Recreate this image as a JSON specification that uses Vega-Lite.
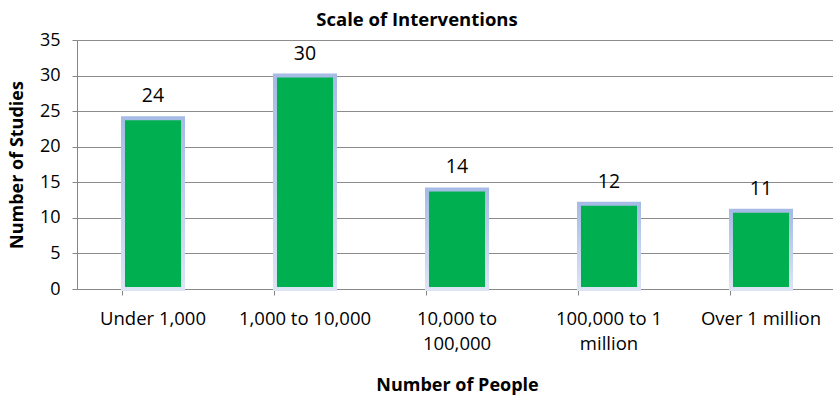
{
  "$schema": "https://vega.github.io/schema/vega-lite/v6.json",
  "autosize": {"type": "none"},
  "width": 760,
  "height": 249,
  "padding": {"left": 77, "top": 40, "right": 0, "bottom": 109},
  "background": "white",
  "config": {
    "font": "Open Sans",
    "view": {"stroke": null}
  },
  "title": {
    "text": "Scale of Interventions",
    "font": "Open Sans",
    "fontSize": 18.5,
    "fontWeight": "bold",
    "color": "#000000",
    "anchor": "middle",
    "offset": 2,
    "dx": -40
  },
  "data": {
    "values": [
      {"people": "Under 1,000", "studies": 24},
      {"people": "1,000 to 10,000", "studies": 30},
      {"people": "10,000 to 100,000", "studies": 14},
      {"people": "100,000 to 1 million", "studies": 12},
      {"people": "Over 1 million", "studies": 11}
    ]
  },
  "encoding": {
    "x": {
      "field": "people",
      "type": "nominal",
      "sort": null,
      "scale": {"paddingInner": 0.605, "paddingOuter": 0.3025},
      "axis": {
        "title": "Number of People",
        "titleFont": "Open Sans",
        "titleFontSize": 18,
        "titleFontWeight": "bold",
        "titleColor": "#000000",
        "titlePadding": 24,
        "labelAngle": 0,
        "labelFont": "Open Sans",
        "labelFontSize": 18.5,
        "labelColor": "#000000",
        "labelPadding": 14,
        "labelLineHeight": 25,
        "labelExpr": "datum.value == '10,000 to 100,000' ? ['10,000 to', '100,000'] : datum.value == '100,000 to 1 million' ? ['100,000 to 1', 'million'] : datum.value",
        "bandPosition": 0,
        "tickSize": 6,
        "tickColor": "#868686",
        "domainColor": "#868686",
        "grid": false
      }
    },
    "y": {
      "field": "studies",
      "type": "quantitative",
      "scale": {"domain": [0, 35]},
      "axis": {
        "title": "Number of Studies",
        "titleFont": "Open Sans",
        "titleFontSize": 18,
        "titleFontWeight": "bold",
        "titleColor": "#000000",
        "titlePadding": 13,
        "values": [0, 5, 10, 15, 20, 25, 30, 35],
        "labelFont": "Open Sans",
        "labelFontSize": 18,
        "labelColor": "#000000",
        "labelPadding": 12,
        "tickSize": 5,
        "tickColor": "#868686",
        "domainColor": "#868686",
        "gridColor": "#8c8c8c",
        "gridWidth": 1.2
      }
    }
  },
  "layer": [
    {
      "mark": {
        "type": "bar",
        "color": "#00b050",
        "strokeWidth": 4,
        "stroke": {
          "gradient": "linear",
          "x1": 0, "y1": 0, "x2": 0, "y2": 1,
          "stops": [
            {"offset": 0, "color": "#a6bbe5"},
            {"offset": 1, "color": "#dde5f4"}
          ]
        }
      }
    },
    {
      "mark": {
        "type": "text",
        "baseline": "bottom",
        "dy": -12,
        "font": "Open Sans",
        "fontSize": 19.5,
        "color": "#000000"
      },
      "encoding": {"text": {"field": "studies", "type": "quantitative"}}
    }
  ]
}
